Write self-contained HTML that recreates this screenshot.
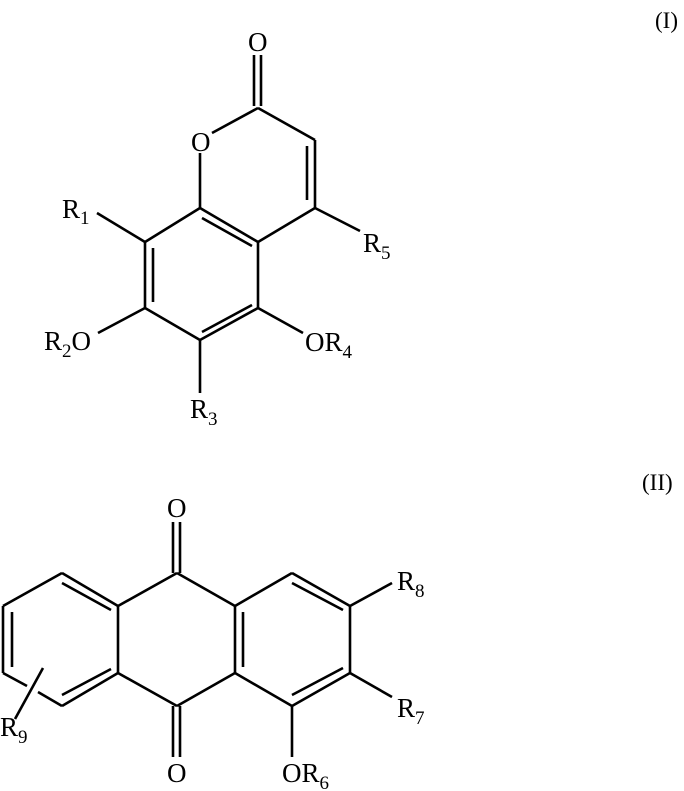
<!DOCTYPE html>
<html><head><meta charset="utf-8"><style>
html,body{margin:0;padding:0;background:#fff;}
svg{display:block;}
text{font-family:"Liberation Serif",serif;fill:#000;}
.l{font-size:27px;}
.s{font-size:19px;}
</style></head><body>
<svg width="684" height="791" viewBox="0 0 684 791" xmlns="http://www.w3.org/2000/svg">
<g stroke="#000" stroke-width="2.6" fill="none" stroke-linecap="butt">
<!-- Structure I -->
<line x1="254" y1="55" x2="254" y2="106"/>
<line x1="261" y1="55" x2="261" y2="106"/>
<line x1="258" y1="108" x2="212" y2="133"/>
<line x1="258" y1="108" x2="315" y2="140"/>
<line x1="315" y1="140" x2="315" y2="208"/>
<line x1="307" y1="146" x2="307" y2="200"/>
<line x1="315" y1="208" x2="258" y2="242"/>
<line x1="200" y1="153" x2="200" y2="208"/>
<line x1="200" y1="208" x2="258" y2="242"/>
<line x1="202" y1="218" x2="252" y2="246"/>
<line x1="200" y1="208" x2="145" y2="242"/>
<line x1="145" y1="242" x2="145" y2="308"/>
<line x1="153" y1="248" x2="153" y2="302"/>
<line x1="145" y1="308" x2="200" y2="340"/>
<line x1="200" y1="340" x2="258" y2="308"/>
<line x1="202" y1="332" x2="252" y2="305"/>
<line x1="258" y1="308" x2="258" y2="242"/>
<line x1="145" y1="242" x2="97" y2="213"/>
<line x1="315" y1="208" x2="360" y2="231"/>
<line x1="145" y1="308" x2="98" y2="333"/>
<line x1="258" y1="308" x2="303" y2="333"/>
<line x1="200" y1="340" x2="200" y2="393"/>
<!-- Structure II -->
<line x1="173" y1="522" x2="173" y2="573"/>
<line x1="180" y1="522" x2="180" y2="573"/>
<line x1="173" y1="706" x2="173" y2="757"/>
<line x1="180" y1="706" x2="180" y2="757"/>
<line x1="177" y1="573" x2="235" y2="606"/>
<line x1="177" y1="573" x2="118" y2="606"/>
<line x1="177" y1="706" x2="235" y2="673"/>
<line x1="177" y1="706" x2="118" y2="673"/>
<line x1="118" y1="606" x2="118" y2="673"/>
<line x1="235" y1="606" x2="235" y2="673"/>
<line x1="243" y1="612" x2="243" y2="667"/>
<!-- left ring -->
<line x1="118" y1="606" x2="62" y2="573"/>
<line x1="62" y1="583" x2="111" y2="610"/>
<line x1="62" y1="573" x2="3" y2="606"/>
<line x1="3" y1="606" x2="3" y2="673"/>
<line x1="12" y1="612" x2="12" y2="667"/>
<line x1="3" y1="673" x2="27" y2="686"/>
<line x1="38" y1="692" x2="62" y2="706"/>
<line x1="62" y1="706" x2="118" y2="673"/>
<line x1="62" y1="695" x2="111" y2="669"/>
<line x1="43" y1="668" x2="15" y2="719"/>
<!-- right ring -->
<line x1="235" y1="606" x2="292" y2="573"/>
<line x1="292" y1="573" x2="350" y2="606"/>
<line x1="292" y1="583" x2="343" y2="610"/>
<line x1="350" y1="606" x2="350" y2="673"/>
<line x1="350" y1="673" x2="292" y2="706"/>
<line x1="343" y1="668" x2="292" y2="695"/>
<line x1="292" y1="706" x2="235" y2="673"/>
<line x1="350" y1="606" x2="392" y2="583"/>
<line x1="350" y1="673" x2="392" y2="697"/>
<line x1="292" y1="706" x2="292" y2="757"/>
</g>
<!-- labels I -->
<text class="l" x="248" y="51">O</text>
<text class="l" x="191" y="151">O</text>
<text class="l" x="62" y="218">R<tspan class="s" dy="6">1</tspan></text>
<text class="l" x="363" y="252">R<tspan class="s" dy="7">5</tspan></text>
<text class="l" x="44" y="350">R<tspan class="s" dy="7">2</tspan><tspan dy="-7">O</tspan></text>
<text class="l" x="305" y="351">OR<tspan class="s" dy="7">4</tspan></text>
<text class="l" x="190" y="418">R<tspan class="s" dy="7">3</tspan></text>
<text x="655" y="28" style="font-size:23px">(I)</text>
<!-- labels II -->
<text class="l" x="167" y="517">O</text>
<text class="l" x="167" y="782">O</text>
<text class="l" x="397" y="590">R<tspan class="s" dy="7">8</tspan></text>
<text class="l" x="397" y="717">R<tspan class="s" dy="7">7</tspan></text>
<text class="l" x="282" y="782">OR<tspan class="s" dy="7">6</tspan></text>
<text class="l" x="0" y="736">R<tspan class="s" dy="7">9</tspan></text>
<text x="642" y="490" style="font-size:23px">(II)</text>
</svg>
</body></html>
